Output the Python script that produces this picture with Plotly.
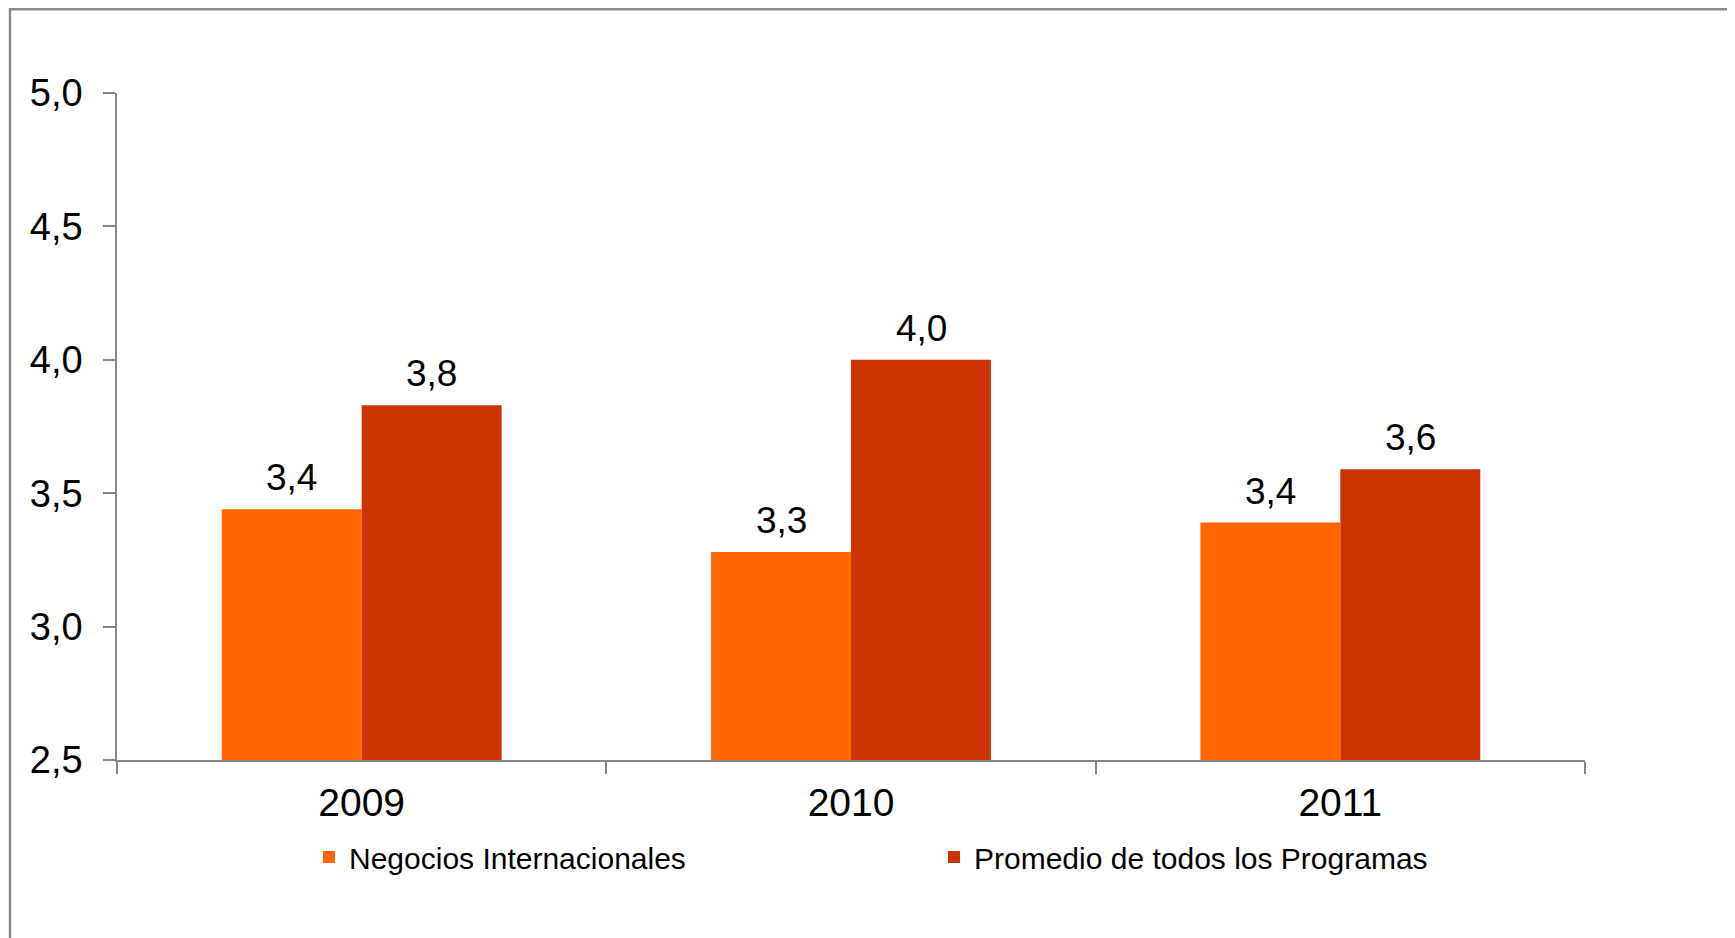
import plotly.graph_objects as go

years = ["2009", "2010", "2011"]
negocios = [3.44, 3.28, 3.39]
promedio = [3.83, 4.0, 3.59]
series_names = ["Negocios Internacionales", "Promedio de todos los Programas"]
y_ticks = [2.5, 3.0, 3.5, 4.0, 4.5, 5.0]

W, H = 1735, 938
OFF = 8  # page body margin
# plot area in screen pixels: x 117..1585, y 93..760
ML, MT = 117 - OFF, 93 - OFF
MR = W - (1585 - OFF)
MB = H - (760 - OFF)
PW, PH = W - ML - MR, H - MT - MB

FONT = "Liberation Sans, Arial, sans-serif"
COLORS = ["#FF6600", "#CC3300"]
BAR_HALF_PX = 70

fig = go.Figure()
for name, vals, col in zip(series_names, [negocios, promedio], COLORS):
    fig.add_trace(go.Bar(
        x=years, y=vals, name=name,
        marker=dict(color=col, line=dict(width=0)),
    ))

annotations = []
for vals, sh in zip([negocios, promedio], [-BAR_HALF_PX, BAR_HALF_PX]):
    for i, v in enumerate(vals):
        annotations.append(dict(
            x=i, y=v, xref="x", yref="y", text=f"{v:.1f}".replace(".", ","),
            showarrow=False, xanchor="center", yanchor="bottom",
            xshift=sh, yshift=9,
            font=dict(size=37, color="black", family=FONT),
        ))


def px_x(p):
    return (p - OFF - ML) / PW


def px_y(p):
    return (H - MB - (p - OFF)) / PH


fig.update_layout(
    width=W, height=H,
    margin=dict(l=ML, r=MR, t=MT, b=MB, pad=0),
    paper_bgcolor="white", plot_bgcolor="white",
    separators=",.",
    barmode="group", bargap=0.428, bargroupgap=0,
    font=dict(family=FONT, color="black"),
    showlegend=True,
    legend=dict(
        orientation="h", x=px_x(309), xanchor="left", y=px_y(857), yanchor="middle",
        font=dict(size=30, color="black", family=FONT),
        entrywidth=580, itemwidth=30, traceorder="normal",
        bgcolor="rgba(0,0,0,0)",
    ),
    xaxis=dict(
        type="category", categoryorder="array", categoryarray=years,
        range=[-0.5, len(years) - 0.5],
        showline=True, linecolor="#868686", linewidth=1.5,
        ticks="outside", tickson="boundaries", ticklen=12, tickcolor="#868686", tickwidth=1.5,
        tickfont=dict(size=39, color="black", family=FONT),
        ticklabelstandoff=7, tickangle=0,
        showgrid=False, zeroline=False,
    ),
    yaxis=dict(
        range=[2.5, 5.0], tickvals=y_ticks, tickformat=".1f",
        showline=True, linecolor="#868686", linewidth=1.5,
        ticks="outside", ticklen=12, tickcolor="#868686", tickwidth=1.5,
        tickfont=dict(size=38, color="black", family=FONT),
        ticklabelstandoff=13,
        showgrid=False, zeroline=False,
    ),
    annotations=annotations,
    shapes=[dict(
        type="rect", xref="paper", yref="paper",
        x0=px_x(10), x1=px_x(1732), y0=px_y(960), y1=px_y(OFF + 1.2),
        line=dict(color="#8C8C8C", width=2.5), fillcolor="rgba(0,0,0,0)", layer="below",
    )],
)

fig.write_html("out.html")
